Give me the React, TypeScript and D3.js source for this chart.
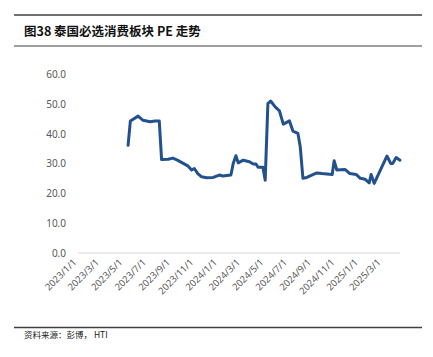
import React from "react";
import * as d3 from "d3";

const dates: string[] = [
  "2023-05-11","2023-05-17","2023-06-06","2023-06-19","2023-07-07","2023-07-20","2023-07-31",
  "2023-08-06","2023-08-23","2023-09-04","2023-09-16","2023-10-06","2023-10-14","2023-10-23",
  "2023-10-30","2023-11-08","2023-11-18","2023-12-01","2023-12-18","2024-01-03","2024-01-12",
  "2024-02-02","2024-02-08","2024-02-15","2024-02-21","2024-03-05","2024-03-21","2024-03-31",
  "2024-04-07","2024-04-13","2024-04-25","2024-05-01","2024-05-08","2024-05-15","2024-05-27",
  "2024-06-07","2024-06-17","2024-07-03","2024-07-12","2024-07-25","2024-07-31","2024-08-07",
  "2024-08-17","2024-08-30","2024-09-12","2024-09-25","2024-10-15","2024-10-22","2024-10-27",
  "2024-11-03","2024-11-24","2024-12-07","2024-12-23","2025-01-03","2025-01-15","2025-01-26",
  "2025-01-31","2025-02-08","2025-03-13","2025-03-23","2025-03-28","2025-04-06","2025-04-16"
];
const peValues: number[] = [
  36.2,44.4,46.0,44.6,44.1,44.4,44.4,
  31.4,31.5,31.9,31.2,29.8,29.2,27.9,
  28.4,26.7,25.6,25.3,25.4,26.2,25.9,
  26.2,30.1,32.7,30.3,31.2,30.7,29.9,
  29.9,28.8,28.8,24.5,50.2,51.1,49.1,
  47.8,43.3,44.4,41.0,40.2,35.7,25.1,
  25.4,26.2,26.9,26.7,26.5,26.4,31.0,
  27.9,28.1,26.7,26.4,25.1,24.8,23.6,
  26.4,23.4,32.6,30.1,30.1,32.1,31.2
];
const yTicks: number[] = [0, 10, 20, 30, 40, 50, 60];
const xTickLabels: string[] = [
  "2023/1/1","2023/3/1","2023/5/1","2023/7/1","2023/9/1","2023/11/1","2024/1/1",
  "2024/3/1","2024/5/1","2024/7/1","2024/9/1","2024/11/1","2025/1/1","2025/3/1"
];
const axisStart = "2023-01-01";
const axisEnd = "2025-04-16";
const title = "图38 泰国必选消费板块 PE 走势";
const source = "资料来源：彭博， HTI";

const parse = d3.timeParse("%Y-%m-%d");
const parseLabel = d3.timeParse("%Y/%m/%d");

export default function App() {
  const W = 433, H = 357;
  const x = d3.scaleTime().domain([parse(axisStart)!, parse(axisEnd)!]).range([78, 400]);
  const y = d3.scaleLinear().domain([0, 60]).range([253, 74.5]);
  const data = dates.map((d, i) => ({ d: parse(d)!, v: peValues[i] }));
  const line = d3.line<{ d: Date; v: number }>().x(p => x(p.d)).y(p => y(p.v));
  const font = "'Noto Sans', 'Liberation Sans', sans-serif";
  return (
    <svg width={W} height={H} style={{ position: "absolute", left: 0, top: 0, background: "#fff" }}>
      <line x1={14} x2={422} y1={15} y2={15} stroke="#404040" strokeWidth={1.5} />
      <text x={24} y={36} fontFamily="'Noto Sans CJK SC', sans-serif" fontWeight="bold" fontSize={12.5} fill="#111">{title}</text>
      <line x1={14} x2={422} y1={46} y2={46} stroke="#404040" strokeWidth={1} />
      {yTicks.map(t => (
        <text key={t} x={66} y={y(t)} dy="0.35em" textAnchor="end" fontFamily={font} fontSize={10} fill="#595959">{t.toFixed(1)}</text>
      ))}
      <line x1={78} x2={400} y1={y(0)} y2={y(0)} stroke="#d9d9d9" strokeWidth={1} />
      {xTickLabels.map(l => {
        const tx = x(parseLabel(l)!);
        return (
          <text key={l} transform={`translate(${tx - 1},${263}) rotate(-45)`} textAnchor="end" fontFamily={font} fontSize={9.5} fill="#595959">{l}</text>
        );
      })}
      <path d={line(data) || ""} fill="none" stroke="#23518E" strokeWidth={3} strokeLinejoin="round" strokeLinecap="round" />
      <line x1={14} x2={422} y1={327.5} y2={327.5} stroke="#404040" strokeWidth={1.5} />
      <text x={24} y={338} fontFamily="'Noto Sans CJK SC', sans-serif" fontSize={8.5} fill="#222">{source}</text>
    </svg>
  );
}
